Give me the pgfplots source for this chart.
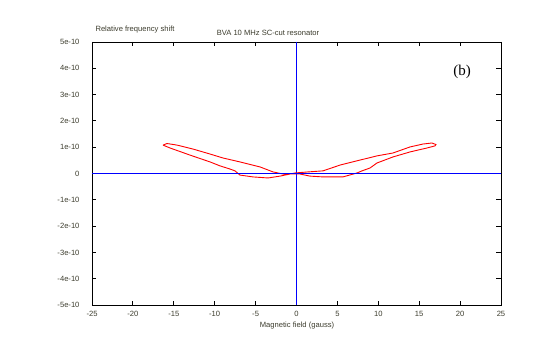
\documentclass[border=0pt]{standalone}
\usepackage{pgfplots}
\pgfplotsset{compat=1.18}
\usepackage{fontspec}
\setmainfont{Liberation Sans}
\newfontfamily\seriffont{Liberation Serif}
\definecolor{txt}{RGB}{60,60,45}
\definecolor{zline}{RGB}{0,0,255}
\begin{document}
\begin{tikzpicture}[x=1pt,y=1pt]
\path[use as bounding box] (0,0) rectangle (539,354);
\begin{axis}[
  at={(92pt,49pt)}, anchor=south west,
  scale only axis, width=409pt, height=263pt,
  xmin=-25, xmax=25, ymin=-5, ymax=5,
  xtick={-25,-20,...,25},
  ytick={-5,-4,...,5},
  yticklabels={-5e-10,-4e-10,-3e-10,-2e-10,-1e-10,0,1e-10,2e-10,3e-10,4e-10,5e-10},
  xticklabels={-25,-20,-15,-10,-5,0,5,10,15,20,25},
  tick align=inside,
  major tick length=4.5pt,
  tick style={black, line width=0.8pt},
  axis line style={black, line width=0.8pt},
  tick label style={font=\fontsize{7.6}{8}\selectfont, text=txt},
  xticklabel style={yshift=-3pt},
  yticklabel style={xshift=-9pt},
  clip=false,
]
\addplot[zline, line width=1.0pt] coordinates {(0,-5) (0,5)};
% relative frequency shift in units of 1e-10
\addplot[red, line width=0.9pt] coordinates {
(-16.32,1.08) (-15.83,1.14) (-14.61,1.08) (-12.65,0.93)
(-10.57,0.74) (-8.99,0.59) (-6.91,0.44) (-4.46,0.25)
(-2.87,0.06) (-1.65,-0.02) (0.43,-0.02)
(1.65,-0.10) (3.24,-0.13) (5.68,-0.13) (7.40,0.02)
(8.01,0.10) (8.99,0.21) (9.84,0.40) (11.80,0.63)
(13.88,0.82) (15.95,0.97) (16.93,1.05) (17.05,1.10)
(16.56,1.16) (15.46,1.12) (13.88,1.01) (11.80,0.78)
(9.84,0.67) (7.76,0.51) (5.32,0.32) (3.24,0.10)
(1.41,0.06) (-0.18,0.02) (-2.02,-0.10) (-3.48,-0.17)
(-5.32,-0.13) (-6.91,-0.06) (-7.52,0.10) (-8.13,0.17)
(-9.35,0.29) (-10.57,0.44) (-13.02,0.70) (-15.46,0.97)
(-16.32,1.08)
};
\draw[zline, line width=1.0pt] (axis cs:-25,0) -- (axis cs:25,0);
\end{axis}
\node[anchor=west, text=txt, font=\fontsize{7.6}{8}\selectfont] at (92,324) {Relative frequency shift};
\node[text=txt, font=\fontsize{7.6}{8}\selectfont] at (268,321) {BVA 10 MHz SC-cut resonator};
\node[text=txt, font=\fontsize{7.6}{8}\selectfont] at (297,28) {Magnetic field (gauss)};
\node[text=black, font=\seriffont\fontsize{15}{17}\selectfont] at (462,282) {(b)};
\end{tikzpicture}
\end{document}
